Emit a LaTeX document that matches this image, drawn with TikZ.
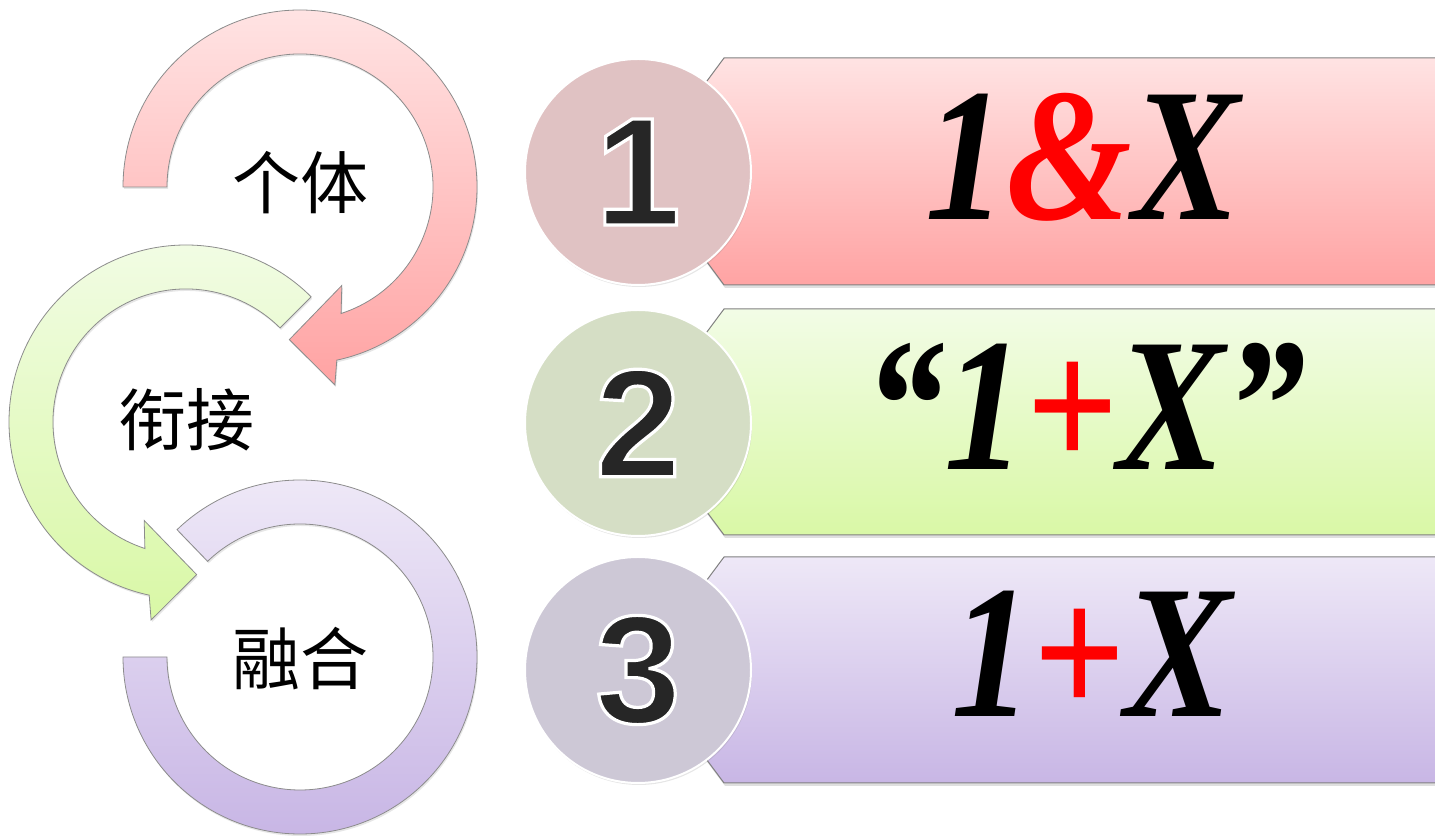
\documentclass[tikz,border=0pt]{standalone}
\usepackage{fontspec}
\usetikzlibrary{shadows}
\newfontfamily\cjk{Noto Sans CJK SC}
\newfontfamily\numfont{Liberation Sans}
\newfontfamily\bannerfont[FakeStretch=0.85]{Liberation Serif}
\definecolor{pinktop}{HTML}{FFE3E3}
\definecolor{pinkbot}{HTML}{FFA3A3}
\definecolor{greentop}{HTML}{F2FCE6}
\definecolor{greenbot}{HTML}{D9F8A6}
\definecolor{purpletop}{HTML}{EEE8F7}
\definecolor{purplebot}{HTML}{C8B6E5}
\definecolor{pinkdisc}{HTML}{E0C2C3}
\definecolor{greendisc}{HTML}{D5DEC5}
\definecolor{purpledisc}{HTML}{CDC8D6}
\newcommand{\outlined}[1]{\special{pdf:literal 2 Tr 1 1 1 RG 3.2 w}#1\special{pdf:literal 0 Tr}}
\tikzstyle{ring} = [draw=gray!90, line width=0.8pt, drop shadow={shadow xshift=1pt, shadow yshift=-2pt, opacity=0.2}]
\tikzstyle{banner} = [draw=gray, line width=1pt, drop shadow={shadow xshift=1pt, shadow yshift=-3pt, opacity=0.25}]
\tikzstyle{badge} = [circle, draw=white, line width=2pt, minimum size=226pt, inner sep=0pt, text=black!85, font=\numfont\bfseries\fontsize{154}{154}\selectfont, drop shadow={shadow xshift=1pt, shadow yshift=-2pt, opacity=0.2}]
\tikzstyle{word} = [inner sep=0pt, font=\cjk\fontsize{68}{68}\selectfont]
\tikzstyle{formula} = [anchor=base, inner sep=0pt, font=\bannerfont\bfseries\itshape\fontsize{190}{190}\selectfont]

\begin{document}
\begin{tikzpicture}[x=1pt,y=1pt]
\useasboundingbox (0,0) rectangle (1435,837);

\draw [ring, top color=pinktop, bottom color=pinkbot, shift={(300,650)}] (180:177) arc [start angle=180, end angle=-78, radius=177] -- (-80:201) -- (-94:153) -- (-67:107) -- (-72:133) arc [start angle=-72, end angle=180, radius=133] -- cycle;
\draw [ring, top color=greentop, bottom color=greenbot, shift={(186,415)}] (45:177) arc [start angle=45, end angle=258, radius=177] -- (260:201) -- (274:153) -- (247:107) -- (252:133) arc [start angle=252, end angle=45, radius=133] -- cycle;
\draw [ring, top color=purpletop, bottom color=purplebot, shift={(300,180)}] (180:177) arc [start angle=180, end angle=494, radius=177] -- (494:133) arc [start angle=494, end angle=180, radius=133] -- cycle;

\node [word] (p) at (300,654) {个体};
\node [word] (q) at (186,417) {衔接};
\node [word] (r) at (300,178) {融合};

\draw [banner, top color=pinktop, bottom color=pinkbot] (724,779) -- (1440,779) -- (1440,552) -- (724,552) -- (640,665.5) -- cycle;
\draw [banner, top color=greentop, bottom color=greenbot] (724,528) -- (1440,528) -- (1440,302) -- (724,302) -- (640,415) -- cycle;
\draw [banner, top color=purpletop, bottom color=purplebot] (724,280) -- (1440,280) -- (1440,54) -- (724,54) -- (640,167) -- cycle;

\node [badge, fill=pinkdisc] (a) at (638,665) {\outlined{1}};
\node [badge, fill=greendisc] (b) at (638,414) {\outlined{2}};
\node [badge, fill=purpledisc] (c) at (638,167) {\outlined{3}};

\node [formula] (a1) at (1083,617) {1\textcolor{red}{\&}X};
\node [formula] (b1) at (1085,367) {“1\textcolor{red}{+}X”};
\node [formula] (c1) at (1092,120) {1\textcolor{red}{+}X};
\end{tikzpicture}
\end{document}
